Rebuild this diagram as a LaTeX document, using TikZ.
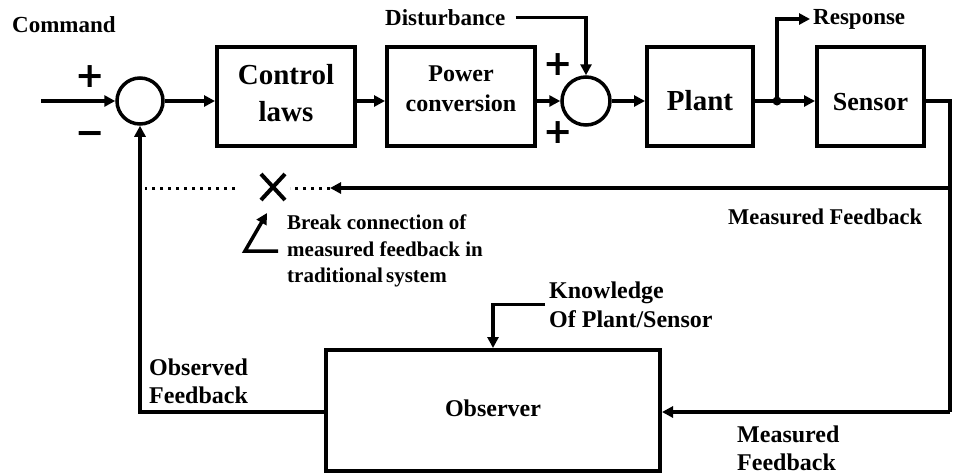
\documentclass[tikz,border=0pt]{standalone}
\usepackage{fontspec}
\setmainfont{Liberation Serif}
\newfontfamily\signfont{DejaVu Sans}
\usetikzlibrary{arrows.meta}
\begin{document}
\begin{tikzpicture}[x=1pt,y=-1pt,
  lbl/.style={font=\fontsize{23}{29}\selectfont\bfseries, inner sep=0pt, align=left},
  sml/.style={font=\fontsize{21}{26.5}\selectfont\bfseries, inner sep=0pt, align=left},
  big/.style={font=\fontsize{29}{37}\selectfont\bfseries, inner sep=0pt, align=center},
  blk/.style={draw, line width=4pt, inner sep=0pt},
  sumj/.style={draw, circle, line width=3.5pt, inner sep=0pt, minimum size=46pt},
  sgn/.style={font=\fontsize{35}{35}\signfont\bfseries, inner sep=0pt},
  wire/.style={line width=3.5pt},
  arr/.style={line width=3.5pt, -{Triangle[length=11pt,width=11pt]}},
  dotline/.style={line width=3pt, dash pattern=on 3pt off 5pt}
]
\useasboundingbox (0,0) rectangle (953,475);

% blocks
\node[sumj] (j1) at (140,101) {};
\node[sumj, minimum size=48pt] (j2) at (586,101) {};
\node[blk, minimum width=138pt, minimum height=99pt] (ctrl) at (286,96.5) {};
\node[blk, minimum width=148pt, minimum height=99pt] (power) at (461,96.5) {};
\node[blk, minimum width=106pt, minimum height=99pt] (plant) at (700,96.5) {};
\node[blk, minimum width=107pt, minimum height=99pt] (sensor) at (870.5,96.5) {};
\node[blk, minimum width=334pt, minimum height=121pt] (obs) at (493,410.5) {};

% block texts
\node[big] (ctrltxt) at (286,93) {Control\\laws};
\node[lbl, align=center, font=\fontsize{24}{30}\selectfont\bfseries] (powtxt) at (461,89) {Power\\conversion};
\node[big] (planttxt) at (700,101) {Plant};
\node[lbl, font=\fontsize{26}{30}\selectfont\bfseries] (senstxt) at (870.5,102) {Sensor};
\node[lbl, font=\fontsize{24}{30}\selectfont\bfseries] (obstxt) at (493,408) {Observer};

% labels
\node[lbl, anchor=west] (cmd) at (12,25) {Command};
\node[lbl, anchor=west] (dist) at (385,17.5) {Disturbance};
\node[lbl, anchor=west] (resp) at (813,19) {Response};
\node[lbl, anchor=west, font=\fontsize{22.5}{28}\selectfont\bfseries] (mf1) at (728,217) {Measured Feedback};
\node[sml, anchor=west] (brk) at (287,251) {Break connection of\\measured feedback in\\traditional\hspace{-2pt} system};
\node[lbl, anchor=west, font=\fontsize{24}{29}\selectfont\bfseries] (know) at (549,304.5) {Knowledge\\Of Plant/Sensor};
\node[lbl, anchor=west, font=\fontsize{24}{28}\selectfont\bfseries] (obsfb) at (149,381.5) {Observed\\Feedback};
\node[lbl, anchor=west, font=\fontsize{24}{28}\selectfont\bfseries] (mf2) at (737,448.5) {Measured\\Feedback};

% signs
\node[sgn] (p1) at (90,77) {+};
\node[sgn] (m1) at (90,138) {−};
\node[sgn] (p2) at (558,65) {+};
\node[sgn] (p3) at (558,133) {+};

% coordinates
\coordinate (cin) at (41,101);
\coordinate (dot) at (777,101);
\coordinate (R3) at (950,412);
\coordinate (R2) at (950,188);
\coordinate (fbtip) at (330,188);
\coordinate (dA) at (290,188);
\coordinate (dB) at (235,188);
\coordinate (dC) at (145,188);
\coordinate (xm) at (273,187);

% forward path
\draw[arr] (cin) -- (j1.west);
\draw[arr] (j1.east) -- (j1.east -| ctrl.west);
\draw[arr] (ctrl.east |- j1) -- (power.west |- j1);
\draw[arr] (power.east |- j2) -- (j2.west);
\draw[arr] (j2.east) -- (plant.west |- j2);
\draw[wire] (plant.east |- dot) -- (dot);
\draw[arr] (dot) -- (sensor.west |- dot);
\draw[arr] (dot) |- ([xshift=-3pt]resp.west);
\fill (dot) circle (4.5pt);
\draw[arr] ([xshift=10pt]dist.east) -| (j2.north);

% feedback paths
\draw[wire, line width=4pt] (sensor.east |- dot) -| (R3);
\draw[arr] (R3) -- (obs.east |- R3);
\draw[arr] (R2) -- (fbtip);
\draw[dotline] (fbtip) -- (dA);
\draw[dotline] (dB) -- (dC);
\draw[arr] (obs.west |- R3) -| (j1.south);
\draw[arr] ([xshift=-4pt]know.west) -| (obs.north);

% break mark
\draw[line width=4pt] ([shift={(-12,-13)}]xm) -- ([shift={(12,13)}]xm);
\draw[line width=4pt] ([shift={(-12,13)}]xm) -- ([shift={(12,-13)}]xm);
\draw[arr] ([xshift=-9pt]brk.west) -- ++(-33,0) -- ([shift={(-6,26)}]xm);
\end{tikzpicture}
\end{document}
